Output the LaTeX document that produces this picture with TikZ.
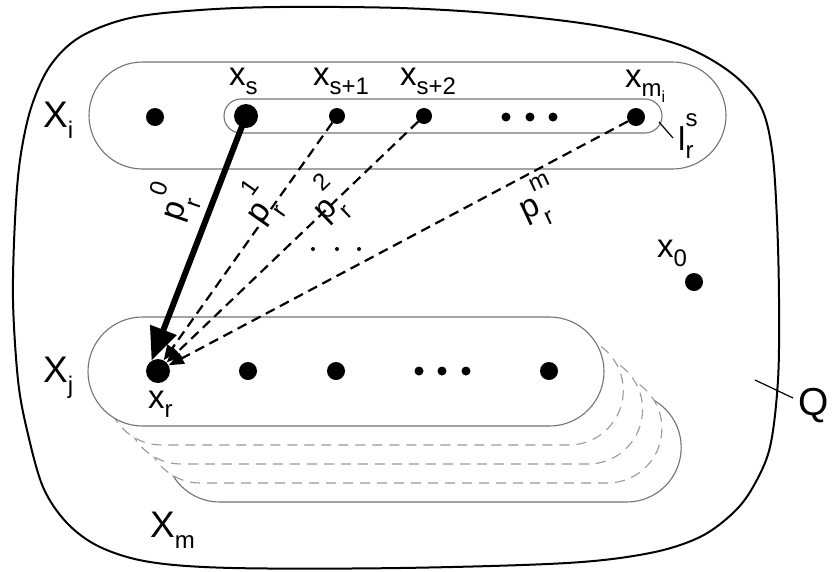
\documentclass[tikz,border=0pt]{standalone}
\usepackage{fontspec}
\setmainfont{Liberation Sans}
\usetikzlibrary{arrows.meta,shapes.misc}
\definecolor{edgegray}{gray}{0.45}
\definecolor{dashgray}{gray}{0.6}
\newcommand\Sb[1]{\raisebox{-0.3em}{\fontsize{24}{24}\selectfont #1}}
\newcommand\SbSb[2]{\raisebox{-0.3em}{\fontsize{24}{24}\selectfont #1\raisebox{-0.25em}{\fontsize{16}{16}\selectfont #2}}}
\newcommand\SbSp[2]{\rlap{\raisebox{-0.42em}{\fontsize{24}{24}\selectfont #1}}\raisebox{0.7em}{\fontsize{24}{24}\selectfont #2}}
\newcommand\PLab[1]{p\rlap{\smash{\SbSp{r}{#1}}}}
\newcommand\LSp[2]{\rlap{\raisebox{-0.25em}{\fontsize{24}{24}\selectfont #1}}\raisebox{0.7em}{\fontsize{24}{24}\selectfont #2}}
\begin{document}
\begin{tikzpicture}[x=1pt,y=-1pt,
  lab/.style={font=\fontsize{33}{36}\selectfont, inner sep=0pt, anchor=base west},
  caplab/.style={font=\fontsize{37}{40}\selectfont, inner sep=0pt, anchor=base west},
  plab/.style={font=\fontsize{33}{36}\selectfont, inner sep=0pt, anchor=center},
  dotc/.style={circle, fill=black, inner sep=0pt, minimum size=#1},
  grp/.style={rounded rectangle, draw=edgegray, line width=1.1pt, inner sep=0pt},
  stackbox/.style={rounded rectangle, fill=white, inner sep=0pt, minimum width=516pt, minimum height=109pt},
  thickarrow/.style={line width=6pt, -{Triangle[length=33pt,width=27pt]}},
  dasharrow/.style={line width=2.2pt, dash pattern=on 10pt off 6pt, -{Triangle[length=15pt,width=12pt]}},
  leader/.style={line width=1.2pt}
]
\useasboundingbox (0,0) rectangle (832,571);

% outer region Q
\draw[line width=2pt] plot[smooth cycle, tension=0.55] coordinates {
 (280,7) (400,8) (500,14) (600,26) (680,45) (730,72) (760,105) (772,150)
 (777,220) (779,300) (778,380) (770,447) (753,487) (733,513) (700,537)
 (650,553) (567,563) (400,568) (233,568) (150,562) (100,547) (67,523)
 (43,487) (27,430) (18,380) (13,300) (15,220) (20,160) (31,108) (50,66)
 (80,37) (130,18) (200,10)};

% X_i and l_r^s
\node[grp, minimum width=637pt, minimum height=107pt] (Xi) at (407.5,115.5) {};
\node[grp, minimum width=438pt, minimum height=34pt] (lrs) at (443,116) {};

% stacked sets behind X_j
\node[stackbox, draw=edgegray, line width=1.1pt] (St4) at (423.2,447.5) {};
\node[stackbox, draw=dashgray, line width=1.1pt, dash pattern=on 10pt off 7pt] (St3) at (403.9,428.5) {};
\node[stackbox, draw=dashgray, line width=1.1pt, dash pattern=on 10pt off 7pt] (St2) at (384.6,409.5) {};
\node[stackbox, draw=dashgray, line width=1.1pt, dash pattern=on 10pt off 7pt] (St1) at (365.3,390.5) {};
\node[stackbox, draw=edgegray, line width=1.1pt] (Xj) at (346,371.5) {};

% points in X_i
\node[dotc=18pt] (a1) at (155,117) {};
\node[dotc=24pt] (xs) at (246,116) {};
\node[dotc=16pt] (xs1) at (337,116) {};
\node[dotc=16pt] (xs2) at (424,116) {};
\node[dotc=9pt] (e1) at (506,117) {};
\node[dotc=9pt] (e2) at (530,117) {};
\node[dotc=9pt] (e3) at (553,117) {};
\node[dotc=18pt] (xmi) at (636,117) {};

% points in X_j
\node[dotc=24pt] (xr) at (158,371) {};
\node[dotc=18pt] (b2) at (248,371) {};
\node[dotc=18pt] (b3) at (336,371) {};
\node[dotc=9pt] (f1) at (419,371) {};
\node[dotc=9pt] (f2) at (442,371) {};
\node[dotc=9pt] (f3) at (466,371) {};
\node[dotc=18pt] (b5) at (549,371) {};

% x_0
\node[dotc=18pt] (x0) at (694,282) {};

% small dots between paths
\node[dotc=4pt] (g1) at (313,249) {};
\node[dotc=4pt] (g2) at (337,249) {};
\node[dotc=4pt] (g3) at (359,249) {};

% paths
\draw[thickarrow] (xs.center) -- (xr.122);
\draw[dasharrow] (xs1) -- (xr.62);
\draw[dasharrow] (xs2) -- (xr.45);
\draw[dasharrow] (xmi) -- (xr.28);

% path labels
\node[plab, rotate=71] (p0) at (178,212) {\PLab{0}};
\node[plab, rotate=55] (p1) at (262,215) {\PLab{1}};
\node[plab, rotate=44] (p2) at (328,212) {\PLab{2}};
\node[plab, rotate=25] (pm) at (532,212) {\PLab{m}};

% set labels
\node[caplab] (LXi) at (43,127) {X\Sb{i}};
\node[caplab] (LXj) at (43,382) {X\Sb{j}};
\node[caplab] (LXm) at (150,537) {X\Sb{m}};
\node[font=\fontsize{39}{42}\selectfont, inner sep=0pt, anchor=base west] (LQ) at (798,415) {Q};

% point labels
\node[lab] (Lxs) at (229,85) {x\Sb{s}};
\node[lab] (Lxs1) at (313,85) {x\Sb{s+1}};
\node[lab] (Lxs2) at (400,85) {x\Sb{s+2}};
\node[lab] (Lxmi) at (625,87) {x\SbSb{m}{i}};
\node[lab] (Lx0) at (657,257) {x\Sb{0}};
\node[lab] (Lxr) at (148,408) {x\Sb{r}};
\node[lab] (Llrs) at (678,150) {l\LSp{r}{s}};

% leaders
\coordinate (la) at (659,122);
\coordinate (lb) at (673,138);
\draw[leader] (la) -- (lb);
\coordinate (qa) at (755,380);
\coordinate (qb) at (793,398);
\draw[leader] (qa) -- (qb);
\end{tikzpicture}
\end{document}
